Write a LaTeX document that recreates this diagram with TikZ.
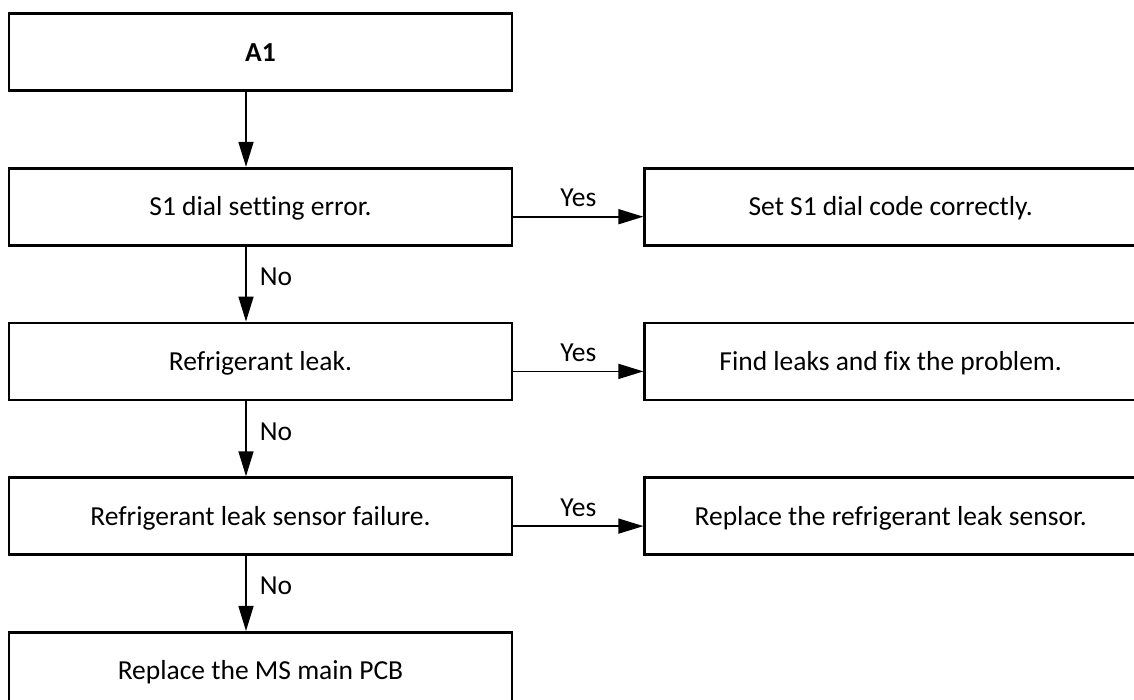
\documentclass[tikz,border=0pt]{standalone}
\usepackage{fontspec}
\setmainfont{Carlito}[Ligatures=NoCommon]
\usetikzlibrary{arrows.meta,positioning}

\begin{document}
\begin{tikzpicture}[
  x=1pt, y=-1pt,
  node distance=75pt and 130pt,
  box/.style={draw=black, line width=2.7pt, minimum width=503pt, minimum height=77pt, text height=18pt, text depth=0pt, font=\fontsize{27.5}{33}\selectfont},
  fixbox/.style={box, minimum width=492pt},
  arrow/.style={-{Triangle[length=25pt, width=15pt]}, line width=1.6pt},
  lbl/.style={inner sep=0pt, font=\fontsize{27.5}{33}\selectfont},
  yes/.style={lbl, midway, anchor=base, yshift=10pt},
  no/.style={lbl, midway, anchor=base west, xshift=13pt, yshift=-1.5pt}
]
\useasboundingbox (0,0) rectangle (1134,699);
\clip (0,0) rectangle (1134,699);

\node[box] (a1) at (260.5,52) {\textbf{A1}};
\node[box, below=of a1] (dial) {S1 dial setting error.};
\node[box, below=of dial] (leak) {Refrigerant leak.};
\node[box, below=of leak] (sensor) {Refrigerant leak sensor failure.};
\node[box, below=of sensor] (pcb) {Replace the MS main PCB};

\node[fixbox, right=of dial] (setdial) {Set S1 dial code correctly.};
\node[fixbox, right=of leak] (fixleak) {Find leaks and fix the problem.};
\node[fixbox, right=of sensor] (newsensor) {Replace the refrigerant leak sensor.};

\draw[arrow] ([xshift=-14.5pt]a1.south) -- ([xshift=-14.5pt]dial.north);
\draw[arrow] ([xshift=-14.5pt]dial.south) -- ([xshift=-14.5pt]leak.north) node[no] {No};
\draw[arrow] ([xshift=-14.5pt]leak.south) -- ([xshift=-14.5pt]sensor.north) node[no] {No};
\draw[arrow] ([xshift=-14.5pt]sensor.south) -- ([xshift=-14.5pt]pcb.north) node[no] {No};

\draw[arrow] ([yshift=-10pt]dial.east) -- ([yshift=-10pt]setdial.west) node[yes] {Yes};
\draw[arrow] ([yshift=-10pt]leak.east) -- ([yshift=-10pt]fixleak.west) node[yes] {Yes};
\draw[arrow] ([yshift=-10pt]sensor.east) -- ([yshift=-10pt]newsensor.west) node[yes] {Yes};
\end{tikzpicture}
\end{document}
